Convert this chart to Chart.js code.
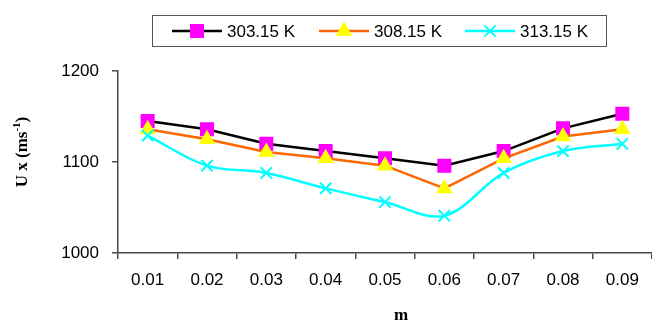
<!DOCTYPE html>
<html>
<head>
<meta charset="utf-8">
<title>U x vs m</title>
<script src="https://cdn.jsdelivr.net/npm/chart.js@4.4.0/dist/chart.umd.min.js"></script>
<style>
    html, body { margin: 0; padding: 0; background: #ffffff; }
    #wrap { position: relative; width: 652px; height: 322px; }
</style>
</head>
<body>
<div id="wrap"><canvas id="lineChart" width="652" height="322"></canvas></div>
<script>
'use strict';

// Data
const categories = ['0.01', '0.02', '0.03', '0.04', '0.05', '0.06', '0.07', '0.08', '0.09'];
const seriesLabels = ['303.15 K', '308.15 K', '313.15 K'];
const u303 = [1145, 1136, 1120, 1112, 1104, 1096, 1112, 1137, 1153];
const u308 = [1136, 1125, 1111, 1104, 1096, 1071, 1104, 1128, 1136];
const u313 = [1129, 1096, 1088, 1071, 1056, 1041, 1088, 1112, 1120];
const yTicks = [1000, 1100, 1200];

(function () {
    // Color Variables
    const blackColor = '#000000',
        magentaColor = '#FF00FF',
        orangeColor = '#FF6600',
        yellowColor = '#FFFF00',
        cyanColor = '#00FFFF',
        axisColor = '#4a4a4a',
        textColor = '#000000';

    const sansFont = "'Liberation Sans', Arial, sans-serif";
    const serifFont = "'Liberation Serif', 'Times New Roman', serif";

    const markers = [
        { style: 'rect', radius: 8.5, fill: magentaColor, stroke: magentaColor, line: blackColor },
        { style: 'triangle', radius: 7.5, fill: yellowColor, stroke: yellowColor, line: orangeColor },
        { style: 'crossRot', radius: 8, fill: cyanColor, stroke: cyanColor, line: cyanColor }
    ];

    // Boxed legend plus the two bold axis titles
    const decorations = {
        id: 'decorations',
        afterDraw(chart) {
            const ctx = chart.ctx;
            ctx.save();

            // legend box
            ctx.strokeStyle = '#555555';
            ctx.lineWidth = 1;
            ctx.strokeRect(152.5, 15.5, 454, 31);

            const itemX = [172, 319, 465];
            const cy = 31;
            ctx.font = '17px ' + sansFont;
            ctx.textBaseline = 'middle';
            ctx.textAlign = 'left';
            seriesLabels.forEach(function (label, i) {
                const m = markers[i];
                const x0 = itemX[i];
                ctx.strokeStyle = m.line;
                ctx.lineWidth = 2.5;
                ctx.beginPath();
                ctx.moveTo(x0, cy);
                ctx.lineTo(x0 + 50, cy);
                ctx.stroke();
                ctx.fillStyle = m.fill;
                ctx.strokeStyle = m.stroke;
                ctx.lineWidth = 2;
                Chart.helpers.drawPoint(ctx, { pointStyle: m.style, radius: m.radius, rotation: 0, borderWidth: 2 }, x0 + 25, cy);
                ctx.fillStyle = textColor;
                ctx.fillText(label, x0 + 55, cy + 1);
            });

            // x title
            ctx.font = 'bold 17px ' + serifFont;
            ctx.textAlign = 'center';
            ctx.textBaseline = 'alphabetic';
            ctx.fillStyle = textColor;
            ctx.fillText('m', 401, 320);

            // y title with superscript
            const mainFont = 'bold 17px ' + serifFont;
            const supFont = 'bold 11px ' + serifFont;
            const partA = 'U x (ms', partB = '-1', partC = ')';
            ctx.font = mainFont;
            const wA = ctx.measureText(partA).width;
            const wC = ctx.measureText(partC).width;
            ctx.font = supFont;
            const wB = ctx.measureText(partB).width;
            const total = wA + wB + wC;
            ctx.translate(27, 152);
            ctx.rotate(-Math.PI / 2);
            ctx.textAlign = 'left';
            let x = -total / 2;
            ctx.font = mainFont;
            ctx.fillText(partA, x, 0);
            x += wA;
            ctx.font = supFont;
            ctx.fillText(partB, x, -7);
            x += wB;
            ctx.font = mainFont;
            ctx.fillText(partC, x, 0);

            ctx.restore();
        }
    };

    function makeDataset(label, data, i, tension) {
        const m = markers[i];
        return {
            label: label,
            data: data,
            borderColor: m.line,
            borderWidth: 2.5,
            tension: tension,
            pointStyle: m.style,
            pointRadius: m.radius,
            pointHoverRadius: m.radius,
            pointBackgroundColor: m.fill,
            pointBorderColor: m.stroke,
            pointBorderWidth: 2,
            clip: false,
            order: 3 - i
        };
    }

    const lineChart = document.getElementById('lineChart');
    if (lineChart) {
        const lineChartVar = new Chart(lineChart, {
            type: 'line',
            data: {
                labels: categories,
                datasets: [
                    makeDataset(seriesLabels[0], u303, 0, 0),
                    makeDataset(seriesLabels[1], u308, 1, 0),
                    makeDataset(seriesLabels[2], u313, 2, 0.35)
                ]
            },
            plugins: [decorations],
            options: {
                responsive: false,
                maintainAspectRatio: false,
                animation: false,
                devicePixelRatio: 1,
                layout: {
                    autoPadding: false,
                    padding: { top: 71, left: 0, right: 0, bottom: 0 }
                },
                plugins: {
                    legend: { display: false },
                    tooltip: { enabled: false }
                },
                scales: {
                    x: {
                        offset: true,
                        grid: {
                            offset: true,
                            drawOnChartArea: false,
                            drawTicks: true,
                            tickLength: 6,
                            color: axisColor,
                            lineWidth: 1.5
                        },
                        border: { display: true, color: axisColor, width: 1.5 },
                        ticks: {
                            color: textColor,
                            padding: 11,
                            maxRotation: 0,
                            font: { family: sansFont, size: 17 }
                        },
                        afterFit: function (scale) {
                            scale.height = 69;
                            scale.paddingLeft = 0;
                            scale.paddingRight = 0;
                        }
                    },
                    y: {
                        min: 1000,
                        max: 1200,
                        afterBuildTicks: function (scale) {
                            scale.ticks = yTicks.map(function (v) { return { value: v }; });
                        },
                        grid: {
                            drawOnChartArea: false,
                            drawTicks: true,
                            tickLength: 6,
                            color: axisColor,
                            lineWidth: 1.5
                        },
                        border: { display: true, color: axisColor, width: 1.5 },
                        ticks: {
                            color: textColor,
                            padding: 13,
                            font: { family: sansFont, size: 17 },
                            callback: function (value) {
                                return String(value);
                            }
                        },
                        afterFit: function (scale) {
                            scale.width = 118;
                        }
                    }
                }
            }
        });
    }
})();
</script>
</body>
</html>
